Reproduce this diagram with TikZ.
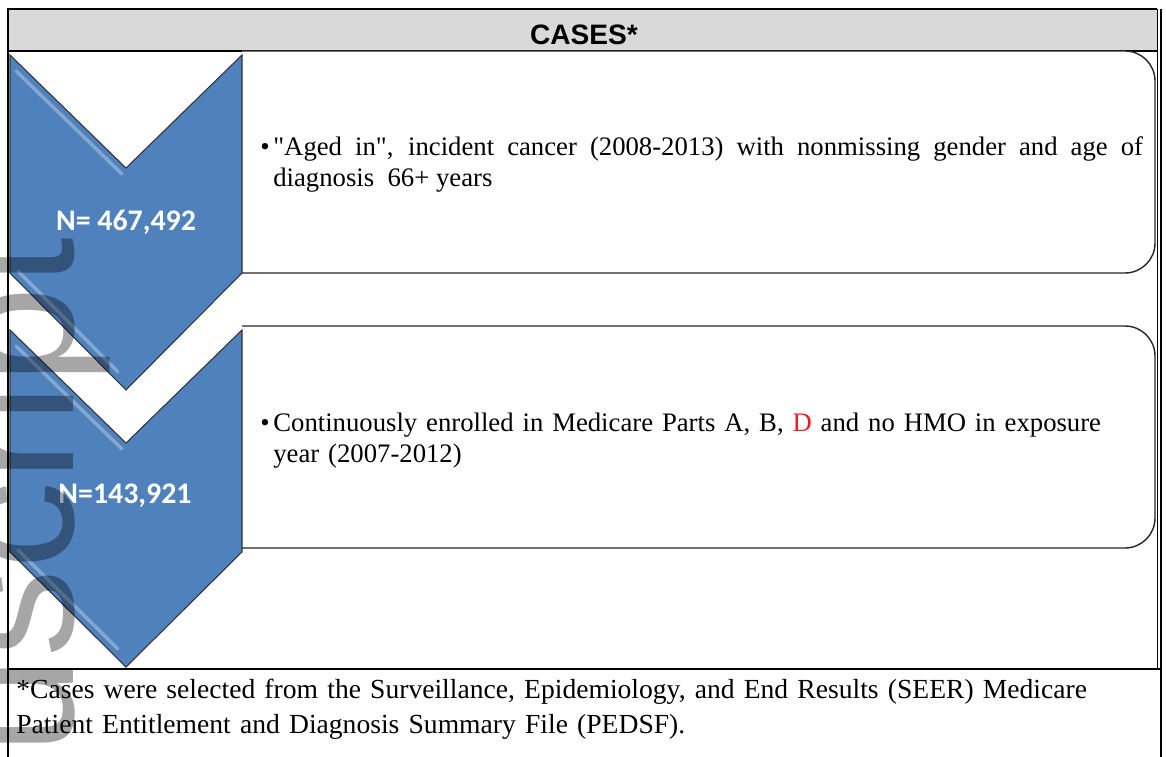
\documentclass[tikz,border=0pt]{standalone}
\usepackage{fontspec}
\setmainfont{Liberation Serif}
\newfontfamily\headfont{Liberation Sans}
\newfontfamily\countfont{Carlito}
\usetikzlibrary{positioning}
\definecolor{chevblue}{RGB}{79,129,189}
\definecolor{headgray}{RGB}{217,217,217}
\definecolor{markred}{RGB}{237,28,36}
\hyphenpenalty=10000
\exhyphenpenalty=10000
\tikzset{
  frameline/.style={draw=black, line width=1.3pt},
  thinframe/.style={draw=black, line width=0.6pt},
  chevron/.style={fill=chevblue, draw=black!80, line width=0.6pt},
  gloss/.style={draw=white, opacity=0.3, line width=2pt, line cap=round},
  stepframe/.style={draw=black!85, fill=white, line width=0.8pt, rounded corners=0.6cm},
  headtext/.style={font=\headfont\bfseries\fontsize{16}{18}\selectfont, inner sep=0pt},
  counttext/.style={text=white, font=\countfont\bfseries\fontsize{17}{20}\selectfont, inner sep=0pt},
  bullettext/.style={anchor=north west, inner sep=0pt, text width=495pt, font=\fontsize{15.2}{17.6}\selectfont},
  notetext/.style={anchor=north west, inner sep=0pt, text width=630pt, align=left, font=\fontsize{15.7}{20}\selectfont},
  watermark/.style={text=black, opacity=0.35, font=\headfont\fontsize{100}{110}\selectfont, inner sep=0pt}
}
\begin{document}
\begin{tikzpicture}[x=0.02cm, y=-0.02cm]
\useasboundingbox (0,0) rectangle (1166,757);
% table frame
\fill[headgray] (8,9) rectangle (1157,51);
\draw[frameline] (8,757) -- (8,9) -- (1157,9);
\draw[thinframe] (1157.5,9) -- (1157.5,669);
\draw[thinframe] (1161,9) -- (1161,757);
\draw[frameline] (8,51) -- (1157,51);
\draw[frameline] (8,669) -- (1161,669);
\node[headtext] (title) at (584,35) {CASES*};
% step boxes
\draw[stepframe] (242,51) -- (1155,51) -- (1155,273) -- (242,273);
\draw[stepframe] (242,326) -- (1155,326) -- (1155,548) -- (242,548);
% chevrons
\draw[chevron] (10,55) -- (126,168) -- (242,55) -- (242,273) -- (126,390) -- (10,273) -- cycle;
\draw[chevron] (10,330) -- (126,443) -- (242,330) -- (242,552) -- (126,667) -- (10,552) -- cycle;
\draw[gloss] (16,71) -- (122,174);
\draw[gloss] (18,271) -- (118,372);
\draw[gloss] (16,346) -- (122,449);
\draw[gloss] (18,550) -- (118,649);
\node[counttext] (count1) at (126,222) {N= 467,492};
\node[counttext] (count2) at (125,496) {N=143,921};
% criteria
\node[bullettext, align=justify] (aged) at (273,136) {\llap{\textbullet\hspace{2pt}}\textquotedbl Aged in\textquotedbl, incident cancer (2008-2013) with nonmissing gender and age of diagnosis\ \ 66+ years};
\node[bullettext, align=left] (enrolled) at (273,413) {\llap{\textbullet\hspace{2pt}}Continuously enrolled in Medicare Parts A, B, \textcolor{markred}{D} and no HMO in exposure year (2007-2012)};
\node[notetext] (note) at (16,679) {*Cases were selected from the Surveillance, Epidemiology, and End Results (SEER) Medicare Patient Entitlement and Diagnosis Summary File (PEDSF).};
% watermark
\node[watermark, rotate=90, anchor=base east] (mark) at (73,237) {Manuscript};
\end{tikzpicture}
\end{document}
